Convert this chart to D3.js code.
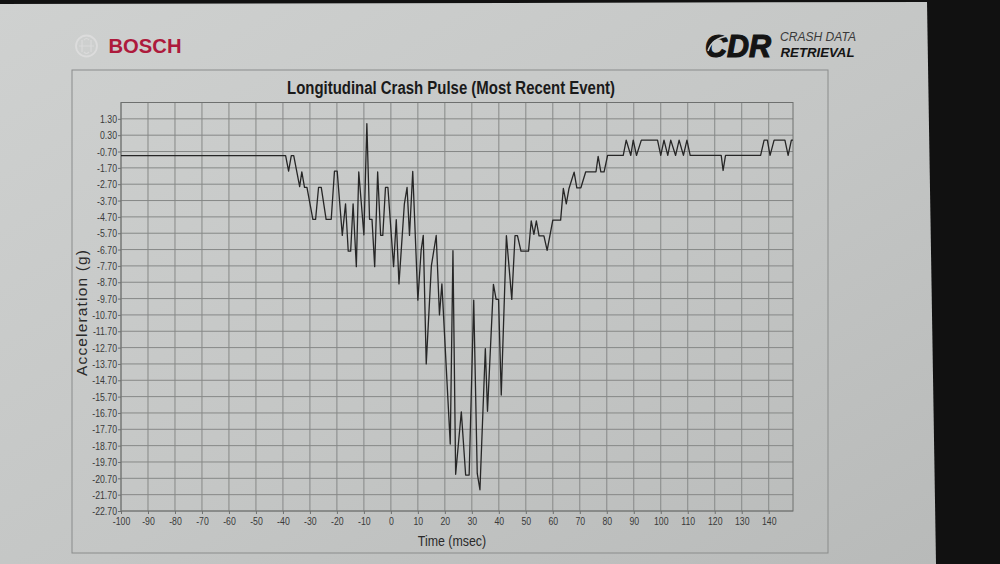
<!DOCTYPE html>
<html>
<head>
<meta charset="utf-8">
<script src="https://cdn.jsdelivr.net/npm/d3@7"></script>
<style>
  html, body { margin: 0; padding: 0; background: #111; }
  svg { display: block; }
</style>
</head>
<body>
<svg id="chart" width="1000" height="564"></svg>
<script>
// ---- data (vertices of the traced pulse) ----
const timeMs = [
  -100, -39.0, -37.9, -36.9, -36.0, -33.8, -33.0, -32.0, -31.1, -28.9, -27.9, -26.8, -25.8,
  -24.0, -22.1, -20.9, -19.9, -18.0, -16.8, -15.8, -14.9, -14.0, -12.8, -11.9, -10.0, -8.9,
  -7.9, -7.0, -6.0, -4.9, -3.8, -3.0, -2.0, -1.1, 1.0, 2.0, 3.0, 5.0, 6.0, 6.9, 8.1, 10.0,
  11.2, 12.0, 13.1, 15.0, 16.8, 18.0, 18.9, 22.0, 23.0, 24.0, 26.1, 27.7, 29.0, 30.7, 32.0,
  33.0, 35.0, 35.8, 38.0, 39.0, 39.9, 40.9, 42.8, 44.8, 46.0, 46.9, 48.2, 51.0, 52.0, 53.0,
  53.9, 54.9, 56.7, 57.9, 60.0, 62.9, 63.9, 65.0, 66.0, 67.9, 68.9, 70.4, 72.2, 76.0, 76.8,
  77.8, 79.0, 80.3, 86.1, 87.2, 88.9, 89.8, 91.0, 92.8, 98.8, 100.0, 101.2, 102.6, 103.7,
  105.5, 106.8, 108.4, 109.7, 110.9, 122.4, 123.1, 124.0, 137.0, 138.3, 139.5, 140.5, 142.0,
  146.0, 147.2, 148.4, 149.0
];
const accelG = [
  -0.95, -0.95, -1.9, -0.95, -0.95, -2.85, -1.95, -2.9, -2.9, -4.85, -4.85, -2.9, -2.9,
  -4.85, -4.85, -1.9, -1.9, -5.83, -3.9, -6.8, -6.8, -3.9, -7.75, -1.95, -5.8, 1.0,
  -4.85, -4.85, -7.75, -1.95, -5.83, -5.83, -2.9, -2.9, -7.75, -4.87, -8.8, -3.9, -2.9, -5.83, -1.92, -9.8,
  -6.77, -5.83, -13.7, -7.7, -5.84, -10.7, -8.8, -18.6, -6.77, -20.45, -16.63, -20.5, -20.5, -9.8, -20.4,
  -21.4, -12.76, -16.6, -8.83, -9.75, -9.75, -15.6, -5.85, -9.75, -5.85, -5.85, -6.8, -6.8, -4.95, -5.77,
  -4.95, -5.86, -5.86, -6.75, -4.9, -4.9, -2.96, -3.9, -2.96, -1.96, -2.92, -2.92, -1.94, -1.94, -1.0,
  -1.94, -1.94, -0.94, -0.94, 0, -0.94, 0, -0.94, 0, 0, -0.94, 0, -0.94, 0,
  -0.94, 0, -0.94, 0, -0.94, -0.94, -1.86, -0.94, -0.94, 0, 0, -0.94, 0,
  0, -0.94, 0, 0
];
const xTickValues = [-100, -90, -80, -70, -60, -50, -40, -30, -20, -10, 0, 10, 20, 30, 40, 50, 60, 70, 80, 90, 100, 110, 120, 130, 140];
const yTickValues = [1.3, 0.3, -0.7, -1.7, -2.7, -3.7, -4.7, -5.7, -6.7, -7.7, -8.7, -9.7, -10.7, -11.7, -12.7, -13.7, -14.7, -15.7, -16.7, -17.7, -18.7, -19.7, -20.7, -21.7, -22.7];
const xDomain = [-100, 149];
const yDomain = [-22.7, 2.3];
const chartTitle = "Longitudinal Crash Pulse (Most Recent Event)";
const xTitle = "Time (msec)";
const yTitle = "Acceleration (g)";

// ---- drawing ----
const svg = d3.select("#chart");
const defs = svg.append("defs");
const grad = defs.append("linearGradient").attr("id", "paper")
  .attr("x1", "0%").attr("y1", "0%").attr("x2", "100%").attr("y2", "100%");
grad.append("stop").attr("offset", "0%").attr("stop-color", "#cfd1d0");
grad.append("stop").attr("offset", "55%").attr("stop-color", "#c4c6c5");
grad.append("stop").attr("offset", "100%").attr("stop-color", "#b8bab9");

// dark photo surroundings
svg.append("rect").attr("width", 1000).attr("height", 564).attr("fill", "#111");
// paper
svg.append("path").attr("d", "M0,4 L927,2 L936,564 L0,564 Z").attr("fill", "url(#paper)");

// frame
svg.append("rect").attr("x", 72).attr("y", 70).attr("width", 756).attr("height", 483)
  .attr("fill", "none").attr("stroke", "#8a8c8b").attr("stroke-width", 1);

// Bosch logo
const bosch = svg.append("g");
bosch.append("circle").attr("cx", 86.5).attr("cy", 46).attr("r", 10.5)
  .attr("fill", "none").attr("stroke", "#dcdcdc").attr("stroke-width", 1.8);
bosch.append("path").attr("d", "M79,46 L94,46 M82,40 L82,52 M91,40 L91,52 M84,40 Q86.5,37 89,40 M84,52 Q86.5,55 89,52")
  .attr("fill", "none").attr("stroke", "#dadada").attr("stroke-width", 1.2);
bosch.append("text").attr("x", 108.5).attr("y", 53)
  .attr("font-family", "'Liberation Sans', Arial, sans-serif").attr("font-weight", "bold")
  .attr("font-size", 20.5).attr("fill", "#ad1a3c").attr("textLength", 73).attr("lengthAdjust", "spacingAndGlyphs")
  .text("BOSCH");

// CDR logo
const cdr = svg.append("g");
cdr.append("text").attr("x", 705).attr("y", 56.5)
  .attr("font-family", "'Liberation Sans', Arial, sans-serif").attr("font-weight", "bold").attr("font-style", "italic")
  .attr("font-size", 31).attr("fill", "#141414").attr("stroke", "#141414").attr("stroke-width", 1.2)
  .attr("textLength", 66).attr("lengthAdjust", "spacingAndGlyphs")
  .text("CDR");
cdr.append("path").attr("d", "M708,51 Q712,38 728,36")
  .attr("fill", "none").attr("stroke", "#c9cbca").attr("stroke-width", 1.6);
cdr.append("text").attr("x", 780).attr("y", 40.7)
  .attr("font-family", "'Liberation Sans', Arial, sans-serif").attr("font-style", "italic")
  .attr("font-size", 13).attr("fill", "#3a3a3a").attr("textLength", 76).attr("lengthAdjust", "spacingAndGlyphs")
  .text("CRASH DATA");
cdr.append("text").attr("x", 780.5).attr("y", 57.3)
  .attr("font-family", "'Liberation Sans', Arial, sans-serif").attr("font-weight", "bold").attr("font-style", "italic")
  .attr("font-size", 13.5).attr("fill", "#141414").attr("textLength", 74).attr("lengthAdjust", "spacingAndGlyphs")
  .text("RETRIEVAL");

// title
svg.append("text").attr("x", 451).attr("y", 94).attr("text-anchor", "middle")
  .attr("font-family", "'Liberation Sans', Arial, sans-serif").attr("font-weight", "bold")
  .attr("font-size", 18).attr("fill", "#1a1a1a").attr("textLength", 328).attr("lengthAdjust", "spacingAndGlyphs")
  .text(chartTitle);

// scales
const x = d3.scaleLinear().domain(xDomain).range([121, 793]);
const y = d3.scaleLinear().domain(yDomain).range([511, 102.5]);

const sans = "'Liberation Sans', Arial, sans-serif";
const squeeze = 0.76;

// grid
const grid = svg.append("g");
grid.selectAll("line.v").data(xTickValues).join("line").attr("class", "v")
  .attr("x1", d => x(d)).attr("x2", d => x(d)).attr("y1", y(yDomain[1])).attr("y2", y(yDomain[0]))
  .attr("stroke", "#868887").attr("stroke-width", 1);
grid.selectAll("line.h").data(yTickValues).join("line").attr("class", "h")
  .attr("x1", x(xDomain[0])).attr("x2", x(xDomain[1])).attr("y1", d => y(d)).attr("y2", d => y(d))
  .attr("stroke", "#868887").attr("stroke-width", 1);
svg.append("rect").attr("x", x(xDomain[0])).attr("y", y(yDomain[1]))
  .attr("width", x(xDomain[1]) - x(xDomain[0])).attr("height", y(yDomain[0]) - y(yDomain[1]))
  .attr("fill", "none").attr("stroke", "#6e706f").attr("stroke-width", 1);

// axes
const yAxis = d3.axisLeft(y).tickValues(yTickValues).tickFormat(d => d.toFixed(2)).tickSize(3).tickPadding(1);
const gy = svg.append("g").attr("transform", `translate(${x(xDomain[0])},0)`).call(yAxis);
gy.select(".domain").remove();
gy.selectAll(".tick line").attr("stroke", "#6e706f");
gy.selectAll(".tick text").attr("font-family", sans).attr("font-size", 11.5).attr("fill", "#3a3a3a")
  .attr("x", 0).attr("transform", `translate(-4,0) scale(${squeeze},1)`);

const xAxis = d3.axisBottom(x).tickValues(xTickValues).tickFormat(d => String(d)).tickSize(3).tickPadding(3);
const gx = svg.append("g").attr("transform", `translate(0,${y(yDomain[0])})`).call(xAxis);
gx.select(".domain").remove();
gx.selectAll(".tick line").attr("stroke", "#6e706f");
gx.selectAll(".tick text").attr("font-family", sans).attr("font-size", 11.5).attr("fill", "#3a3a3a")
  .attr("transform", `scale(${squeeze},1)`);

// axis titles
svg.append("text").attr("transform", `translate(452,546) scale(0.8,1)`).attr("text-anchor", "middle")
  .attr("font-family", sans).attr("font-size", 15.5).attr("fill", "#2a2a2a")
  .text(xTitle);
svg.append("text").attr("transform", "translate(87,313) rotate(-90)").attr("text-anchor", "middle")
  .attr("font-family", sans).attr("font-size", 15.5).attr("fill", "#2a2a2a")
  .attr("textLength", 126).attr("lengthAdjust", "spacing")
  .text(yTitle);

// trace
const pts = timeMs.map((t, i) => [t, accelG[i]]);
const line = d3.line().x(d => x(d[0])).y(d => y(d[1]));
svg.append("path").datum(pts).attr("d", line)
  .attr("fill", "none").attr("stroke", "#262626").attr("stroke-width", 1.3).attr("stroke-linejoin", "round");
</script>
</body>
</html>
